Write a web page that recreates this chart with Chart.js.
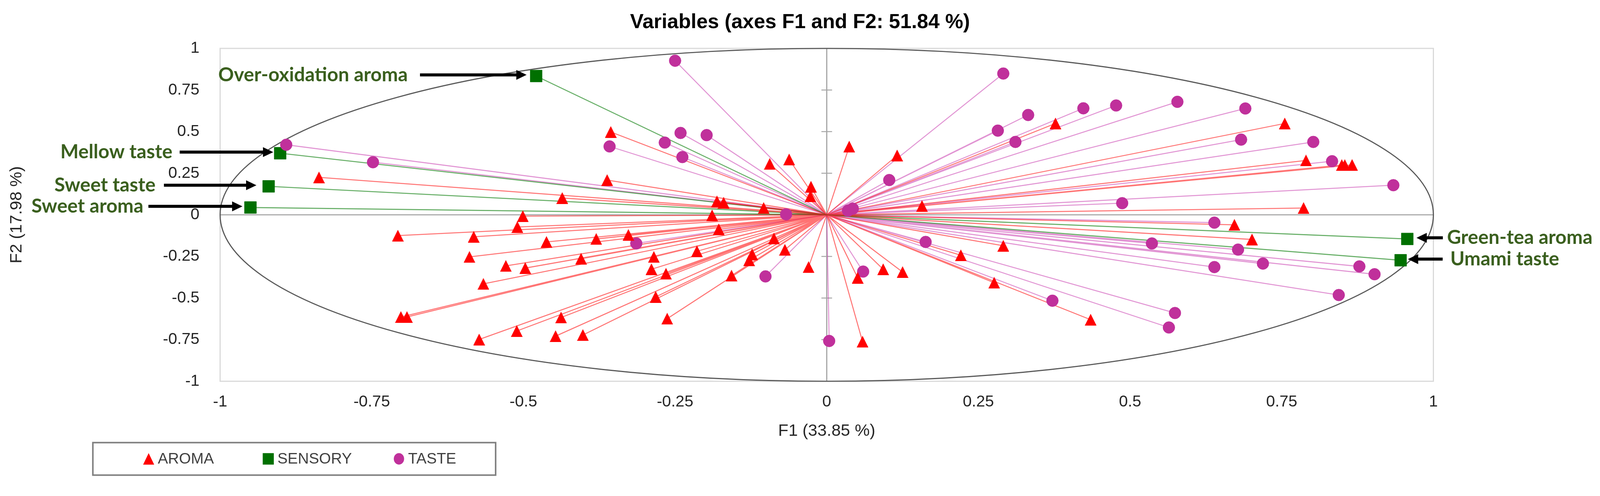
<!DOCTYPE html>
<html>
<head>
<meta charset="utf-8">
<script src="https://cdn.jsdelivr.net/npm/chart.js@4.4.1/dist/chart.umd.min.js"></script>
<style>
html,body{margin:0;padding:0;background:#ffffff;overflow:hidden;}
canvas{display:block;}
</style>
</head>
<body>
<canvas id="c"></canvas>
<script>
// ---------------- DATA ----------------
const chartTitle = 'Variables (axes F1 and F2: 51.84 %)';
const xAxisTitle = 'F1 (33.85 %)';
const yAxisTitle = 'F2 (17.98 %)';
const seriesNames = ['AROMA', 'SENSORY', 'TASTE'];

const xTickValues = [-1, -0.75, -0.5, -0.25, 0, 0.25, 0.5, 0.75, 1];
const xTickLabels = ['-1', '-0.75', '-0.5', '-0.25', '0', '0.25', '0.5', '0.75', '1'];
const yTickValues = [-1, -0.75, -0.5, -0.25, 0, 0.25, 0.5, 0.75, 1];
const yTickLabels = ['-1', '-0.75', '-0.5', '-0.25', '0', '0.25', '0.5', '0.75', '1'];

const aromaX = [-0.837, -0.707, -0.582, -0.589, -0.529, -0.497, -0.566, -0.702, -0.692, -0.511,
                -0.573, -0.501, -0.510, -0.356, -0.094, -0.062, -0.026, -0.027, -0.362, -0.436,
                -0.181, -0.170, -0.104, -0.189, -0.178, -0.327, -0.380, -0.462, -0.405, -0.285,
                -0.289, -0.265, -0.214, -0.087, -0.069, -0.123, -0.128, -0.157, -0.030, -0.282,
                -0.438, -0.447, -0.402, -0.263, 0.037, 0.116, 0.157, 0.377, 0.291, 0.221,
                0.276, 0.435, 0.051, 0.093, 0.125, 0.059, 0.755, 0.790, 0.849, 0.854,
                0.866, 0.786, 0.672, 0.701];
const aromaY = [0.225, -0.125, -0.132, -0.253, -0.307, -0.320, -0.415, -0.614, -0.614, -0.698,
                -0.749, -0.008, -0.073, 0.498, 0.306, 0.333, 0.169, 0.111, 0.209, 0.101,
                0.081, 0.073, 0.041, -0.003, -0.087, -0.121, -0.145, -0.163, -0.264, -0.253,
                -0.327, -0.354, -0.219, -0.142, -0.210, -0.237, -0.273, -0.365, -0.314, -0.493,
                -0.617, -0.729, -0.722, -0.624, 0.410, 0.357, 0.053, 0.549, -0.186, -0.243,
                -0.408, -0.630, -0.378, -0.327, -0.344, -0.762, 0.549, 0.327, 0.299, 0.299,
                0.300, 0.041, -0.060, -0.148];

const sensoryNames = ['Over-oxidation aroma', 'Mellow taste', 'Sweet taste', 'Sweet aroma', 'Green-tea aroma', 'Umami taste'];
const sensoryX = [-0.479, -0.901, -0.920, -0.950, 0.957, 0.946];
const sensoryY = [0.834, 0.370, 0.171, 0.044, -0.145, -0.273];

const tasteX = [-0.891, -0.748, -0.250, -0.358, -0.267, -0.241, -0.198, -0.238, -0.067, -0.314,
                -0.101, 0.004, 0.291, 0.103, 0.043, 0.035, 0.282, 0.332, 0.311, 0.423,
                0.477, 0.487, 0.163, 0.372, 0.060, 0.578, 0.690, 0.683, 0.802, 0.833,
                0.934, 0.639, 0.536, 0.678, 0.719, 0.639, 0.878, 0.903, 0.844, 0.574,
                0.564];
const tasteY = [0.421, 0.316, 0.926, 0.411, 0.434, 0.492, 0.479, 0.347, 0.003, -0.172,
                -0.370, -0.758, 0.849, 0.209, 0.037, 0.025, 0.506, 0.600, 0.438, 0.640,
                0.657, 0.070, -0.163, -0.516, -0.341, 0.679, 0.639, 0.452, 0.438, 0.322,
                0.178, -0.047, -0.172, -0.209, -0.293, -0.314, -0.310, -0.357, -0.482, -0.590,
                -0.677];

// ---------------- STYLE / LAYOUT ----------------
const BASE_W = 4187, BASE_H = 1269;
const K = Math.min((window.innerWidth || BASE_W) / BASE_W, (window.innerHeight || BASE_H) / BASE_H);
const s = v => v * K;

const FONT = "'Liberation Sans', Arial, sans-serif";
const LABEL_FONT = "Lato, 'Open Sans', sans-serif";
const markerColor = { AROMA: '#ff0000', SENSORY: '#007000', TASTE: '#c0309b' };
const rayColor = { AROMA: 'rgba(255,0,0,0.55)', SENSORY: 'rgba(20,130,20,0.65)', TASTE: 'rgba(200,60,175,0.55)' };
const markerRadius = { AROMA: 18, SENSORY: 22, TASTE: 15.5 };
const drawOrder = { AROMA: 0, TASTE: 1, SENSORY: 2 };
const markerStyle = { AROMA: 'triangle', SENSORY: 'rect', TASTE: 'circle' };

// Excel-like triangle marker: triangle inscribed in a square box centred on the point
function makeTriangle(color) {
  const size = Math.round(s(31));
  const c = document.createElement('canvas');
  c.width = size; c.height = size;
  const g = c.getContext('2d');
  g.fillStyle = color;
  g.beginPath(); g.moveTo(size / 2, 0); g.lineTo(size, size); g.lineTo(0, size); g.closePath(); g.fill();
  return c;
}
const triangleCanvas = makeTriangle(markerColor.AROMA);

// annotation layout for the SENSORY labels (pixels at base size)
const labelLayout = [
  { side: 'left',  tipGap: 25, arrow: 279, gap: 32 },
  { side: 'left',  tipGap: 18, arrow: 245, gap: 19 },
  { side: 'left',  tipGap: 32, arrow: 242, gap: 22 },
  { side: 'left',  tipGap: 21, arrow: 246, gap: 13 },
  { side: 'right', tipGap: 24, arrow: 69,  gap: 11 },
  { side: 'right', tipGap: 19, arrow: 91,  gap: 20 }
];

// ---------------- BUILD ----------------
const toPoints = (xs, ys) => xs.map((x, i) => ({ x: x, y: ys[i] }));
const toRays = (xs, ys) => {
  const out = [];
  xs.forEach((x, i) => { out.push({ x: 0, y: 0 }, { x: x, y: ys[i] }, { x: null, y: null }); });
  return out;
};
const seriesData = {
  AROMA: [aromaX, aromaY],
  SENSORY: [sensoryX, sensoryY],
  TASTE: [tasteX, tasteY]
};

const datasets = [];
seriesNames.forEach(name => {
  const [xs, ys] = seriesData[name];
  datasets.push({
    label: name,
    legendStyle: markerStyle[name],
    data: toPoints(xs, ys),
    showLine: false,
    pointStyle: name === 'AROMA' ? triangleCanvas : markerStyle[name],
    pointRadius: s(markerRadius[name]),
    pointHoverRadius: s(markerRadius[name]),
    backgroundColor: markerColor[name],
    borderColor: markerColor[name],
    pointBorderWidth: s(1),
    order: drawOrder[name]
  });
});
seriesNames.forEach(name => {
  const [xs, ys] = seriesData[name];
  datasets.push({
    label: name + ' rays',
    data: toRays(xs, ys),
    showLine: true,
    spanGaps: false,
    borderColor: rayColor[name],
    borderWidth: s(2.6),
    pointRadius: 0,
    pointHoverRadius: 0,
    order: 5
  });
});

function drawArrow(ctx, fromX, toX, yy) {
  const dir = Math.sign(toX - fromX);
  const head = s(27), half = s(13);
  ctx.strokeStyle = '#000'; ctx.fillStyle = '#000'; ctx.lineWidth = s(8);
  ctx.beginPath(); ctx.moveTo(fromX, yy); ctx.lineTo(toX - dir * (head - s(2)), yy); ctx.stroke();
  ctx.beginPath();
  ctx.moveTo(toX, yy);
  ctx.lineTo(toX - dir * head, yy - half);
  ctx.lineTo(toX - dir * head, yy + half);
  ctx.closePath(); ctx.fill();
}

function drawMarker(ctx, style, cx, cy, color) {
  ctx.fillStyle = color;
  ctx.beginPath();
  if (style === 'triangle') {
    ctx.moveTo(cx, cy - s(15)); ctx.lineTo(cx + s(14.5), cy + s(15)); ctx.lineTo(cx - s(14.5), cy + s(15)); ctx.closePath();
  } else if (style === 'rect') {
    ctx.rect(cx - s(14.5), cy - s(15), s(29), s(30));
  } else {
    ctx.ellipse(cx, cy, s(13.5), s(15), 0, 0, Math.PI * 2);
  }
  ctx.fill();
}

const decorPlugin = {
  id: 'decor',
  beforeDatasetsDraw(chart) {
    const { ctx, chartArea: a, scales: { x, y } } = chart;
    ctx.save();
    ctx.strokeStyle = '#d9d9d9'; ctx.lineWidth = s(3);
    ctx.strokeRect(a.left, a.top, a.right - a.left, a.bottom - a.top);
    const x0 = x.getPixelForValue(0), y0 = y.getPixelForValue(0);
    ctx.strokeStyle = '#a6a6a6'; ctx.lineWidth = s(3);
    ctx.beginPath();
    ctx.moveTo(a.left, y0); ctx.lineTo(a.right, y0);
    ctx.moveTo(x0, a.top); ctx.lineTo(x0, a.bottom);
    ctx.stroke();
    ctx.lineWidth = s(2.5);
    yTickValues.forEach(v => {
      if (v === 0 || Math.abs(v) === 1) return;
      const py = y.getPixelForValue(v);
      ctx.beginPath(); ctx.moveTo(x0 - s(14), py); ctx.lineTo(x0 + s(14), py); ctx.stroke();
    });
    const rx = x.getPixelForValue(1) - x0;
    const ry = y0 - y.getPixelForValue(1);
    ctx.strokeStyle = '#595959'; ctx.lineWidth = s(3);
    ctx.beginPath(); ctx.ellipse(x0, y0, rx, ry, 0, 0, Math.PI * 2); ctx.stroke();
    ctx.restore();
  },
  afterDraw(chart) {
    const { ctx, chartArea: a, scales: { x, y } } = chart;
    ctx.save();
    // SENSORY annotations
    ctx.font = 'bold 46px ' + LABEL_FONT;
    const w0 = ctx.measureText(sensoryNames[0]).width;
    const fs = 46 * s(496) / w0;
    ctx.font = 'bold ' + fs.toFixed(2) + 'px ' + LABEL_FONT;
    ctx.textBaseline = 'middle';
    sensoryNames.forEach((name, i) => {
      const L = labelLayout[i];
      const px = x.getPixelForValue(sensoryX[i]);
      const py = y.getPixelForValue(sensoryY[i]) - s(3);
      if (L.side === 'left') {
        const tip = px - s(L.tipGap), start = tip - s(L.arrow);
        drawArrow(ctx, start, tip, py);
        ctx.fillStyle = '#3a5f1e'; ctx.textAlign = 'right';
        ctx.fillText(name, start - s(L.gap), py);
      } else {
        const tip = px + s(L.tipGap), start = tip + s(L.arrow);
        drawArrow(ctx, start, tip, py);
        ctx.fillStyle = '#3a5f1e'; ctx.textAlign = 'left';
        ctx.fillText(name, start + s(L.gap), py);
      }
    });
    // Legend
    const bx = a.left - s(333), by = x.bottom + s(4), bw = s(1054), bh = s(85);
    ctx.strokeStyle = '#7f7f7f'; ctx.lineWidth = s(4);
    ctx.strokeRect(bx, by, bw, bh);
    const itemX = [146, 459, 801];
    ctx.font = s(40).toFixed(2) + 'px ' + FONT;
    ctx.textAlign = 'left'; ctx.textBaseline = 'middle';
    seriesNames.forEach((name, i) => {
      const ds = chart.data.datasets.find(d => d.label === name);
      const cx = bx + s(itemX[i]), cy = by + bh / 2;
      drawMarker(ctx, ds.legendStyle, cx, cy, ds.backgroundColor);
      ctx.fillStyle = '#404040';
      ctx.fillText(ds.label, cx + s(24), cy + s(1));
    });
    ctx.restore();
  }
};

const tickValuesFor = vals => function (scale) { scale.ticks = vals.map(v => ({ value: v })); };

const canvas = document.getElementById('c');
canvas.style.width = (BASE_W * K) + 'px';
canvas.style.height = (BASE_H * K) + 'px';
canvas.width = Math.round(BASE_W * K);
canvas.height = Math.round(BASE_H * K);

new Chart(canvas, {
  type: 'scatter',
  data: { datasets: datasets },
  options: {
    responsive: false,
    animation: false,
    events: [],
    layout: { padding: { left: 0, right: 0, top: 0, bottom: s(115) } },
    plugins: {
      legend: { display: false },
      tooltip: { enabled: false },
      title: {
        display: true,
        text: chartTitle,
        color: '#000000',
        font: { family: FONT, size: s(53), weight: 'bold' },
        padding: { top: s(27), bottom: s(36) }
      }
    },
    scales: {
      x: {
        type: 'linear', min: -1, max: 1,
        afterBuildTicks: tickValuesFor(xTickValues),
        afterFit(scale) { scale.height = s(156.5); },
        grid: { display: false, drawTicks: false },
        border: { display: false },
        ticks: {
          autoSkip: false, maxRotation: 0, padding: s(29), color: '#262626',
          font: { family: FONT, size: s(42) },
          callback: (v, i) => xTickLabels[i]
        },
        title: {
          display: true, text: xAxisTitle, color: '#262626',
          font: { family: FONT, size: s(44) }, padding: { top: 0, bottom: 0 }
        }
      },
      y: {
        type: 'linear', min: -1, max: 1, position: 'left',
        afterBuildTicks: tickValuesFor(yTickValues),
        afterFit(scale) { scale.width = s(576); },
        grid: { display: false, drawTicks: false },
        border: { display: false },
        ticks: {
          autoSkip: false, padding: s(54), color: '#262626',
          font: { family: FONT, size: s(42) },
          callback: (v, i) => yTickLabels[i]
        },
        title: {
          display: true, text: yAxisTitle, color: '#262626',
          font: { family: FONT, size: s(44) }, padding: { top: s(18), bottom: s(18) }
        }
      },
      yRight: {
        type: 'linear', min: -1, max: 1, position: 'right', display: true,
        afterFit(scale) { scale.width = s(436); },
        grid: { display: false, drawTicks: false },
        border: { display: false },
        ticks: { display: false }
      }
    }
  },
  plugins: [decorPlugin]
});
</script>
</body>
</html>
